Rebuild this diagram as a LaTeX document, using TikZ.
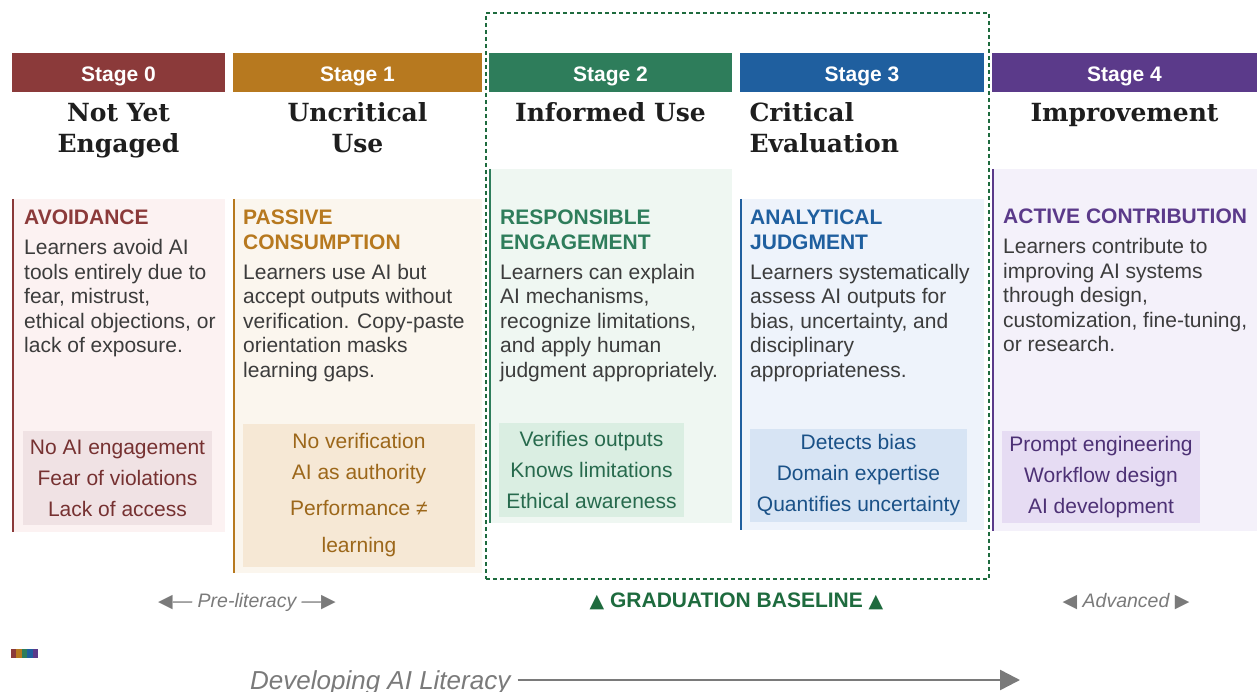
\documentclass[tikz,border=0pt]{standalone}
\usepackage{fontspec}
\setmainfont{Liberation Sans}
\newfontfamily\titlefont{DejaVu Serif}
\newfontfamily\symfont{DejaVu Sans}
\usetikzlibrary{positioning,arrows.meta}

\definecolor{sZero}{HTML}{8B3A3A}
\definecolor{sOne}{HTML}{B7791F}
\definecolor{sTwo}{HTML}{2E7D5B}
\definecolor{sThree}{HTML}{1F5F9F}
\definecolor{sFour}{HTML}{5B3A8A}
\definecolor{paneZero}{HTML}{FCF2F2}
\definecolor{paneOne}{HTML}{FBF6EE}
\definecolor{paneTwo}{HTML}{EFF7F2}
\definecolor{paneThree}{HTML}{EEF3FB}
\definecolor{paneFour}{HTML}{F4F1FA}
\definecolor{tagZero}{HTML}{F0E2E4}
\definecolor{tagOne}{HTML}{F6E8D5}
\definecolor{tagTwo}{HTML}{DAEEE2}
\definecolor{tagThree}{HTML}{D7E4F4}
\definecolor{tagFour}{HTML}{E6DCF3}
\definecolor{gradgreen}{HTML}{1E6B3E}
\definecolor{bodygray}{HTML}{3C3C3C}
\definecolor{mutedgray}{HTML}{7A7A7A}
\definecolor{titleblack}{HTML}{1E1E1E}

\newcommand\stagehead[2]{{\color{#1}\bfseries #2}}
\newcommand\tri[1]{{\symfont\upshape\fontsize{19}{19}\selectfont #1}}

\begin{document}
\begin{tikzpicture}[x=1pt,y=-1pt]
  \tikzset{bar/.style={fill=#1,text=white,inner sep=0pt,minimum height=39pt,
      text height=17.4pt,text depth=0pt,font=\fontsize{21}{24}\selectfont\bfseries},
    stagetitle/.style={anchor=base,align=center,text=titleblack,
      font=\titlefont\bfseries\fontsize{25}{31}\selectfont},
    panel/.style={fill=#1,anchor=north west,inner sep=0pt},
    desc/.style={anchor=north west,align=left,inner sep=0pt,text=bodygray,
      font=\fontsize{21}{24.6}\selectfont},
    tag/.style={fill=#1,inner sep=0pt,align=center,font=\fontsize{21}{31}\selectfont},
    note/.style={anchor=base,text=mutedgray,font=\fontsize{19.5}{23}\selectfont\itshape}}
  \useasboundingbox (0,0) rectangle (1257,692);

  % stage bars
  \node[bar=sZero,minimum width=213pt] (h0) at (118.5,72.5) {Stage 0};
  \node[bar=sOne,minimum width=249pt] (h1) at (357.5,72.5) {Stage 1};
  \node[bar=sTwo,minimum width=243pt] (h2) at (610.5,72.5) {Stage 2};
  \node[bar=sThree,minimum width=244pt] (h3) at (862,72.5) {Stage 3};
  \node[bar=sFour,minimum width=265pt] (h4) at (1124.5,72.5) {Stage 4};

  % titles (base = last line)
  \node[stagetitle] (t0) at (118.5,153) {Not Yet\\Engaged};
  \node[stagetitle] (t1) at (357.5,153) {Uncritical\\Use};
  \node[stagetitle] (t2) at (610.5,122) {Informed Use};
  \node[stagetitle,anchor=base west,align=left] (t3) at (746,153) {Critical\\Evaluation};
  \node[stagetitle] (t4) at (1124.5,122) {Improvement};

  % panels
  \node[panel=paneZero,minimum width=213pt,minimum height=333pt] (p0) at (12,199) {};
  \node[panel=paneOne,minimum width=249pt,minimum height=374pt] (p1) at (233,199) {};
  \node[panel=paneTwo,minimum width=243pt,minimum height=354pt] (p2) at (489,169) {};
  \node[panel=paneThree,minimum width=244pt,minimum height=331pt] (p3) at (740,199) {};
  \node[panel=paneFour,minimum width=265pt,minimum height=362pt] (p4) at (992,169) {};
  \draw[sZero,line width=2pt] ([xshift=1pt]p0.north west) -- ([xshift=1pt]p0.south west);
  \draw[sOne,line width=2pt] ([xshift=1pt]p1.north west) -- ([xshift=1pt]p1.south west);
  \draw[sTwo,line width=2pt] ([xshift=1pt]p2.north west) -- ([xshift=1pt]p2.south west);
  \draw[sThree,line width=2pt] ([xshift=1pt]p3.north west) -- ([xshift=1pt]p3.south west);
  \draw[sFour,line width=2pt] ([xshift=1pt]p4.north west) -- ([xshift=1pt]p4.south west);

  \node[desc] (d0) at (24,210) {\stagehead{sZero}{AVOIDANCE}\\[5pt]
    Learners avoid AI\\tools entirely due to\\fear, mistrust,\\ethical objections, or\\lack of exposure.};
  \node[desc] (d1) at (243,210) {\stagehead{sOne}{PASSIVE}\\\stagehead{sOne}{CONSUMPTION}\\[5pt]
    Learners use AI but\\accept outputs without\\verification. Copy-paste\\orientation masks\\learning gaps.};
  \node[desc] (d2) at (500,210) {\stagehead{sTwo}{RESPONSIBLE}\\\stagehead{sTwo}{ENGAGEMENT}\\[5pt]
    Learners can explain\\AI mechanisms,\\recognize limitations,\\and apply human\\judgment appropriately.};
  \node[desc] (d3) at (750,210) {\stagehead{sThree}{ANALYTICAL}\\\stagehead{sThree}{JUDGMENT}\\[5pt]
    Learners systematically\\assess AI outputs for\\bias, uncertainty, and\\disciplinary\\appropriateness.};
  \node[desc] (d4) at (1003,209) {\stagehead{sFour}{ACTIVE CONTRIBUTION}\\[5pt]
    Learners contribute to\\improving AI systems\\through design,\\customization, fine-tuning,\\or research.};

  % markers
  \node[tag=tagZero,text=sZero!85!black,minimum width=189pt,minimum height=94pt] (g0) at (117.5,478)
    {No AI engagement\\Fear of violations\\Lack of access};
  \node[tag=tagOne,text=sOne!85!black,minimum width=232pt,minimum height=143pt] (g1) at (359,495.5)
    {No verification\\AI as authority\\[5pt]Performance ≠\\[6pt]learning};
  \node[tag=tagTwo,text=sTwo!85!black,minimum width=185pt,minimum height=94pt] (g2) at (591.5,470)
    {Verifies outputs\\Knows limitations\\Ethical awareness};
  \node[tag=tagThree,text=sThree!85!black,minimum width=217pt,minimum height=93pt] (g3) at (858.5,475.5)
    {Detects bias\\Domain expertise\\Quantifies uncertainty};
  \node[tag=tagFour,text=sFour!85!black,minimum width=198pt,minimum height=92pt] (g4) at (1101,477)
    {Prompt engineering\\Workflow design\\AI development};

  % graduation frame
  \node[draw=gradgreen,line width=2pt,dash pattern=on 4pt off 3pt,anchor=north west,
    minimum width=503pt,minimum height=566pt,inner sep=0pt] (frame) at (485,12) {};
  \node[anchor=base,text=gradgreen,font=\fontsize{21}{24}\selectfont\bfseries] (grad) at (736.5,607.5)
    {\tri{▲} GRADUATION BASELINE \tri{▲}};
  \node[note] (pre) at (247,607.5) {\tri{◀}— Pre-literacy —\tri{▶}};
  \node[note] (adv) at (1126,607.5) {\tri{◀} Advanced \tri{▶}};

  \fill[sZero] (11,649) rectangle (16.4,658);
  \fill[sOne] (16.4,649) rectangle (21.8,658);
  \fill[sTwo] (21.8,649) rectangle (27.2,658);
  \fill[sThree] (27.2,649) rectangle (32.6,658);
  \fill[sFour] (32.6,649) rectangle (38,658);

  \node[anchor=base west,inner sep=0pt,text=mutedgray,font=\fontsize{26}{30}\selectfont\itshape]
    (dev) at (250,689) {Developing AI Literacy};
  \coordinate (axisend) at (1020,680);
  \draw[mutedgray,line width=2.5pt,shorten <=7pt,-{Triangle[length=20pt,width=20pt]}]
    (dev.east |- axisend) -- (axisend);
\end{tikzpicture}
\end{document}
